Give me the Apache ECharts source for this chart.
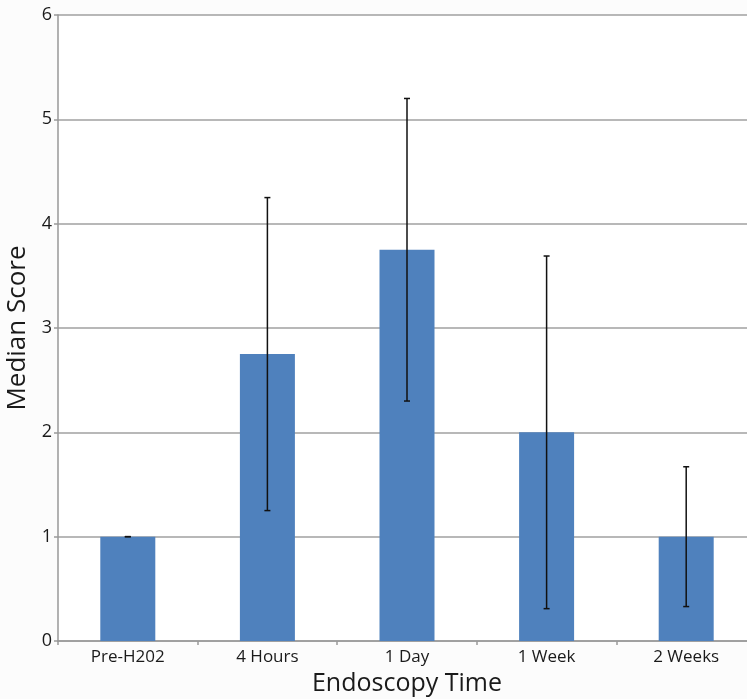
<!DOCTYPE html>
<html>
<head>
<meta charset="utf-8">
<script src="https://cdn.jsdelivr.net/npm/echarts@6/dist/echarts.min.js"></script>
<style>
  html, body { margin: 0; padding: 0; background: #fcfcfc; }
  #chart { width: 747px; height: 699px; }
</style>
</head>
<body>
<div id="chart"></div>
<script>
// values
var categories = ['Pre-H202', '4 Hours', '1 Day', '1 Week', '2 Weeks'];
var medians = [1, 2.75, 3.75, 2, 1];
var errLow = [1, 1.25, 2.3, 0.31, 0.33];
var errHigh = [1, 4.25, 5.2, 3.69, 1.67];
var yTicks = [0, 1, 2, 3, 4, 5, 6];

var font = 'Open Sans';

var errData = categories.map(function (c, i) {
	return [i, errLow[i], errHigh[i]];
});

var option = {
	backgroundColor : '#fcfcfc',
	animation : false,
	grid : {
		left : 58,
		right : -9,
		top : 15,
		bottom : 58,
		outerBoundsMode : 'none',
		containLabel : false,
		show : true,
		backgroundColor : '#ffffff',
		borderWidth : 0
	},
	xAxis : {
		type : 'category',
		data : categories,
		name : 'Endoscopy Time',
		nameLocation : 'middle',
		nameGap : 30,
		nameTextStyle : { fontFamily : font, fontSize : 25, color : '#1a1a1a' },
		axisLine : { lineStyle : { color : '#999999', width : 1.5 } },
		axisTick : { show : true, length : 4, lineStyle : { color : '#999999', width : 1.5 } },
		axisLabel : { fontFamily : font, fontSize : 17, color : '#1a1a1a', margin : 8 }
	},
	yAxis : {
		type : 'value',
		min : yTicks[0],
		max : yTicks[yTicks.length - 1],
		interval : 1,
		name : 'Median Score',
		nameLocation : 'middle',
		nameGap : 21,
		nameTextStyle : { fontFamily : font, fontSize : 26, color : '#1a1a1a' },
		axisLine : { show : true, lineStyle : { color : '#999999', width : 1.5 } },
		axisTick : { show : true, length : 4, lineStyle : { color : '#999999', width : 1.5 } },
		axisLabel : { fontFamily : font, fontSize : 18, color : '#1a1a1a', margin : 6 },
		splitLine : { lineStyle : { color : '#a0a0a0', width : 1.5 } }
	},
	series : [
		{
			type : 'bar',
			data : medians,
			barWidth : 55,
			itemStyle : { color : '#4f81bd' }
		},
		{
			type : 'custom',
			data : errData,
			z : 5,
			renderItem : function (params, api) {
				var x = api.value(0);
				var lo = api.coord([x, api.value(1)]);
				var hi = api.coord([x, api.value(2)]);
				var cap = 3;
				var st = { stroke : '#111111', lineWidth : 1.5 };
				return {
					type : 'group',
					children : [
						{ type : 'line', shape : { x1 : lo[0], y1 : lo[1], x2 : hi[0], y2 : hi[1] }, style : st },
						{ type : 'line', shape : { x1 : lo[0] - cap, y1 : lo[1], x2 : lo[0] + cap, y2 : lo[1] }, style : st },
						{ type : 'line', shape : { x1 : hi[0] - cap, y1 : hi[1], x2 : hi[0] + cap, y2 : hi[1] }, style : st }
					]
				};
			}
		}
	]
};

var chart = echarts.init(document.getElementById('chart'));
chart.setOption(option);
</script>
</body>
</html>
